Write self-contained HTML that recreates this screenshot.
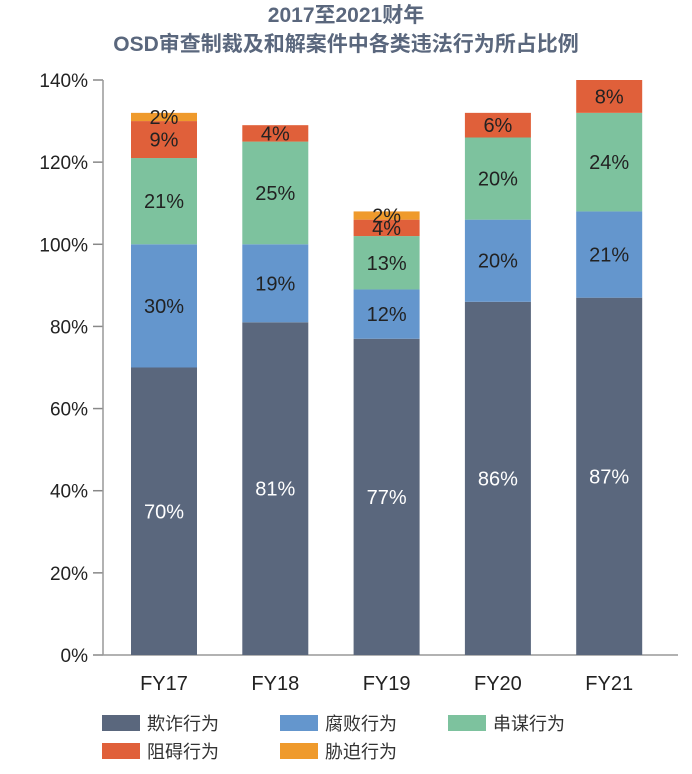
<!DOCTYPE html>
<html><head><meta charset="utf-8"><style>
body{margin:0;background:#fff;width:692px;height:769px;overflow:hidden}
svg text{font-family:"Liberation Sans","Noto Sans CJK SC",sans-serif}
</style></head><body>
<svg id="chart" width="692" height="769" xmlns="http://www.w3.org/2000/svg">
<text x="346" y="22" text-anchor="middle" font-size="21" font-weight="bold" fill="#5a677d">2017至2021财年</text>
<text x="346" y="51" text-anchor="middle" font-size="21" font-weight="bold" fill="#5a677d">OSD审查制裁及和解案件中各类违法行为所占比例</text>
<g id="axes"></g><g id="bars"></g><g id="legend"></g>
</svg>
<script>
const categories=["FY17","FY18","FY19","FY20","FY21"];
const fraud=[70,81,77,86,87];
const corruption=[30,19,12,20,21];
const collusion=[21,25,13,20,24];
const obstruction=[9,4,4,6,8];
const coercion=[2,0,2,0,0];
const yTicks=[0,20,40,60,80,100,120,140];
const seriesNames=["欺诈行为","腐败行为","串谋行为","阻碍行为","胁迫行为"];
const seriesData=[fraud,corruption,collusion,obstruction,coercion];
const colors=["#5a677d","#6496cd","#7dc29e","#e0603a","#ef9a2c"];
const NS="http://www.w3.org/2000/svg";
const y0=655,y1=80,yMax=140,xL=103,xR=678;
function y(v){return y0-(v/yMax)*(y0-y1);}
function xc(i){return 164+i*111.3;}
function mk(t,a,p){const e=document.createElementNS(NS,t);for(const k in a)e.setAttribute(k,a[k]);p.appendChild(e);return e;}
const ax=document.getElementById('axes');
yTicks.forEach(t=>{
  const l=mk('line',{x1:93,x2:xL,y1:y(t),y2:y(t),stroke:'#888','stroke-width':1.5},ax);
  
  
  const tx=mk('text',{x:88,y:y(t)+7,'text-anchor':'end','font-size':19,fill:'#222'},ax);
  tx.textContent=t+'%';
  
  
});
const ya=mk('line',{x1:xL,x2:xL,y1:y1,y2:y0,stroke:'#999','stroke-width':1.5},ax);


const xa=mk('line',{x1:xL,x2:xR,y1:y0,y2:y0,stroke:'#999','stroke-width':1.5},ax);


const bg=document.getElementById('bars');
categories.forEach((c,i)=>{
  let base=0;
  seriesData.forEach((s,j)=>{
    const v=s[i]; if(!v)return;
    const r=mk('rect',{x:xc(i)-33,width:66,y:y(base+v),height:y(base)-y(base+v),fill:colors[j]},bg);
    
    
    const lt=mk('text',{x:xc(i),y:(y(base)+y(base+v))/2+7,'text-anchor':'middle','font-size':20,fill:j==0?'#fff':'#222'},bg);
    lt.textContent=v+'%';
    
    
    base+=v;
  });
  const xl=mk('text',{x:xc(i),y:690,'text-anchor':'middle','font-size':20,fill:'#222'},bg);
  xl.textContent=c;
  
  
});
const lg=document.getElementById('legend');
const lpos=[[102,715],[280,715],[448,715],[102,743],[280,743]];
seriesNames.forEach((n,j)=>{
  const g=mk('g',{},lg);
  
  
  mk('rect',{x:lpos[j][0],y:lpos[j][1],width:38,height:16,fill:colors[j]},g);
  const t=mk('text',{x:lpos[j][0]+45,y:lpos[j][1]+15,'font-size':18,fill:'#333'},g);
  t.textContent=n;
});
</script>
</body></html>
